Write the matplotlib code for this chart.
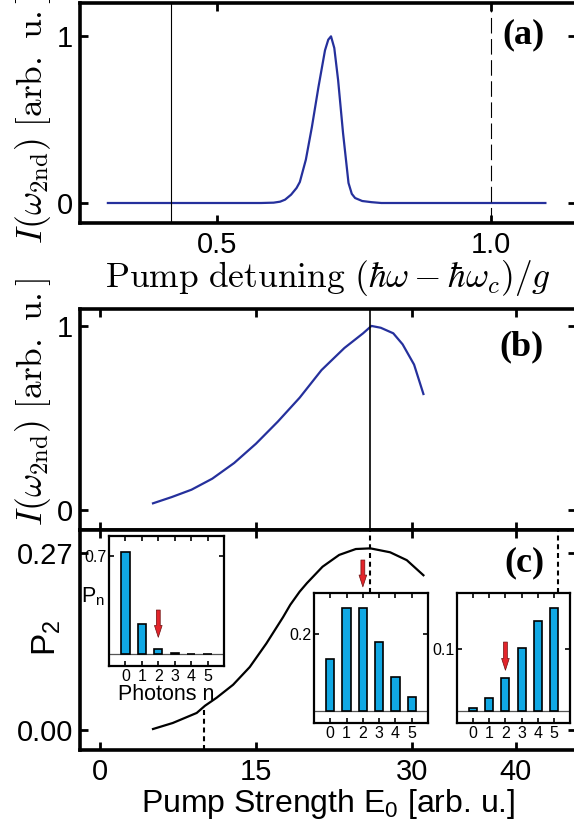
import numpy as np
import matplotlib
matplotlib.use('Agg')
import matplotlib.pyplot as plt

# (a) second harmonic intensity vs pump detuning
detuning = [0.30, 0.40, 0.50, 0.58, 0.603, 0.615, 0.624, 0.635, 0.645, 0.651,
            0.662, 0.673, 0.685, 0.697, 0.703, 0.708, 0.714, 0.721, 0.730,
            0.740, 0.746, 0.752, 0.765, 0.782, 0.80, 0.90, 1.00, 1.10]
intensity_a = [0.0, 0.0, 0.0, 0.0, 0.002, 0.008, 0.02, 0.05, 0.09, 0.126,
               0.26, 0.455, 0.695, 0.916, 0.98, 1.0, 0.93, 0.737, 0.42,
               0.12, 0.055, 0.03, 0.012, 0.005, 0.0, 0.0, 0.0, 0.0]
detuning_solid = 0.415
detuning_dashed = 1.0

# (b) second harmonic intensity vs pump strength
pump_b = [5.1, 6.9, 8.8, 10.8, 12.9, 15.0, 17.1, 19.2, 21.3, 23.5, 25.3,
          26.1, 27.0, 28.2, 29.1, 30.2, 31.1]
intensity_b = [0.036, 0.07, 0.11, 0.17, 0.255, 0.36, 0.48, 0.61, 0.76, 0.88,
               0.96, 1.0, 0.99, 0.96, 0.90, 0.79, 0.63]
pump_peak = 26.0

# (c) two-photon probability vs pump strength
pump_c = [5.1, 7.0, 9.3, 10.1, 11.2, 12.8, 14.4, 16.0, 17.6, 18.3, 19.2,
          19.9, 21.4, 23.0, 24.6, 26.0, 27.9, 29.5, 31.1]
p2 = [0.0015, 0.0107, 0.026, 0.037, 0.049, 0.069, 0.096, 0.132, 0.172,
      0.191, 0.211, 0.224, 0.249, 0.267, 0.276, 0.277, 0.271, 0.259, 0.236]

# photon number distributions shown in the insets
photons = [0, 1, 2, 3, 4, 5]
inset_pumps = [10, 26, 44]
pn_low = [0.73, 0.215, 0.036, 0.004, 0.002, 0.001]
pn_mid = [0.134, 0.269, 0.269, 0.178, 0.089, 0.036]
pn_high = [0.004, 0.020, 0.054, 0.103, 0.147, 0.168]
inset_yticks = [0.7, 0.2, 0.1]

W, H = 574, 832
BLUE = '#25309c'
CYAN = '#10a8e4'
SHORT_DASH = (0, (2.4, 1.8))

plt.rcParams['font.family'] = ['Liberation Sans', 'DejaVu Sans']
plt.rcParams['mathtext.fontset'] = 'custom'
plt.rcParams['mathtext.rm'] = 'Liberation Sans'
plt.rcParams['mathtext.it'] = 'Liberation Sans:italic'
plt.rcParams['mathtext.bf'] = 'Liberation Sans:bold'


def rect(x0, y0, x1, y1):
    # pixel box (from top-left) -> figure fraction
    return [x0 / W, 1 - y1 / H, (x1 - x0) / W, (y1 - y0) / H]


def style_main(ax):
    for s in ax.spines.values():
        s.set_linewidth(2.6)
    ax.tick_params(direction='in', length=6, width=2, top=True, right=True,
                   labelsize=21)
    ax.tick_params(axis='x', pad=6)
    ax.tick_params(axis='y', pad=5)


def style_inset(ax, values, ytick):
    ax.axhline(0, color='#555555', lw=0.9, zorder=1)
    ax.bar(photons, values, width=0.5, color=CYAN, edgecolor='black',
           linewidth=1.2, zorder=3)
    ax.set_xlim(-1, 6)
    ax.set_xticks(photons)
    ax.set_yticks([ytick])
    ax.set_yticklabels(['{:.1f}'.format(ytick)])
    for s in ax.spines.values():
        s.set_linewidth(1.6)
    ax.tick_params(direction='in', length=3.5, width=1.2, top=True,
                   right=True, labelsize=11.5)
    ax.tick_params(axis='x', pad=2.5)
    ax.tick_params(axis='y', pad=2)


def red_arrow(ax, top, tip):
    ax.annotate('', xy=(2, tip), xytext=(2, top), annotation_clip=False,
                arrowprops=dict(arrowstyle='simple,head_width=0.55,'
                                'head_length=0.85,tail_width=0.28',
                                fc='#e3242b', ec='#6b0f0f', lw=0.5,
                                shrinkA=0, shrinkB=0))


fig = plt.figure(figsize=(W / 100, H / 100), dpi=100)
ax_a = fig.add_axes(rect(80, 3, 576, 223))
ax_b = fig.add_axes(rect(80, 309, 576, 530))
ax_c = fig.add_axes(rect(80, 530, 576, 750))

cm_label = dict(math_fontfamily='cm', fontsize=25.5)

# panel (a)
ax_a.plot(detuning, intensity_a, color=BLUE, lw=1.6)
ax_a.axvline(detuning_solid, color='black', lw=0.8)
ax_a.axvline(detuning_dashed, color='black', lw=0.8, dashes=(14, 5))
ax_a.set_xlim(0.249, 1.156)
ax_a.set_ylim(-0.12, 1.2)
ax_a.set_xticks([0.5, 1.0])
ax_a.set_xticklabels(['0.5', '1.0'])
ax_a.set_yticks([0, 1])
ax_a.set_yticklabels(['0', '1'])
style_main(ax_a)
ax_a.set_xlabel(r'$\mathrm{Pump\ detuning}\ (\hbar\omega-\hbar\omega_c)/g$',
                **cm_label)
ax_a.xaxis.set_label_coords(0.5, -0.16)
ax_a.set_ylabel(r'$I(\omega_{\mathrm{2nd}})\ \mathrm{[arb.\ u.]}$', **cm_label)
ax_a.yaxis.set_label_coords(-0.054, 0.47)
ax_a.text(0.895, 0.855, '(a)', transform=ax_a.transAxes, ha='center',
          va='center', fontsize=26, fontweight='bold',
          family='Liberation Serif')

# panel (b)
ax_b.plot(pump_b, intensity_b, color=BLUE, lw=1.6)
ax_b.axvline(pump_peak, color='black', lw=1.2)
ax_b.set_xlim(-1.92, 45.77)
ax_b.set_ylim(-0.109, 1.092)
ax_b.set_xticks([0, 15, 30, 40])
ax_b.set_yticks([0, 1])
ax_b.set_yticklabels(['0', '1'])
style_main(ax_b)
ax_b.tick_params(axis='x', labelbottom=False)
ax_b.set_ylabel(r'$I(\omega_{\mathrm{2nd}})\ \mathrm{[arb.\ u.]}$', **cm_label)
ax_b.yaxis.set_label_coords(-0.054, 0.58)
ax_b.text(0.891, 0.828, '(b)', transform=ax_b.transAxes, ha='center',
          va='center', fontsize=26, fontweight='bold',
          family='Liberation Serif')

# panel (c)
ax_c.plot(pump_c, p2, color='black', lw=1.6)
ax_c.set_xlim(-1.92, 45.77)
ax_c.set_ylim(-0.0305, 0.305)
ax_c.set_xticks([0, 15, 30, 40])
ax_c.set_yticks([0, 0.27])
ax_c.set_yticklabels(['0.00', '0.27'])
style_main(ax_c)
ax_c.set_xlabel(r'Pump Strength $\mathrm{E}_{0}$ [arb. u.]', fontsize=23)
ax_c.xaxis.set_label_coords(0.5, -0.17)
ax_c.set_ylabel(r'$\mathrm{P}_2$', fontsize=24)
ax_c.yaxis.set_label_coords(-0.034, 0.51)
ax_c.text(0.897, 0.85, '(c)', transform=ax_c.transAxes, ha='center',
          va='center', fontsize=26, fontweight='bold',
          family='Liberation Serif')

inset_rects = [rect(109, 536, 224, 666), rect(314, 593, 428, 723),
               rect(457, 593, 570, 723)]
c_box = ax_c.get_position()

# dashed markers linking the curve to the insets
ylo, yhi = ax_c.get_ylim()
ax_c.vlines(inset_pumps[0], ylo, np.interp(inset_pumps[0], pump_c, p2),
            color='black', lw=1.5, linestyles=[SHORT_DASH])
for e0, r in zip(inset_pumps[1:], inset_rects[1:]):
    ymin = (r[1] + r[3] - c_box.y0) / c_box.height
    ax_c.axvline(e0, ymin=ymin, ymax=1, color='black', lw=1.5,
                 linestyle=SHORT_DASH)

ins1 = fig.add_axes(inset_rects[0])
ins2 = fig.add_axes(inset_rects[1])
ins3 = fig.add_axes(inset_rects[2])

style_inset(ins1, pn_low, inset_yticks[0])
ins1.set_ylim(-0.086, 0.843)
ins1.set_xlabel('Photons n', fontsize=15.5, labelpad=0)
ins1.set_ylabel(r'$\mathrm{P_n}$', fontsize=15.5, rotation=0, ha='center',
                va='center')
ins1.yaxis.set_label_coords(-0.14, 0.53)
red_arrow(ins1, 0.314, 0.119)

style_inset(ins2, pn_mid, inset_yticks[1])
ins2.set_ylim(-0.032, 0.307)
red_arrow(ins2, 0.393, 0.323)

style_inset(ins3, pn_high, inset_yticks[2])
ins3.set_ylim(-0.02, 0.192)
red_arrow(ins3, 0.112, 0.066)

fig.savefig('out.png', dpi=100)
